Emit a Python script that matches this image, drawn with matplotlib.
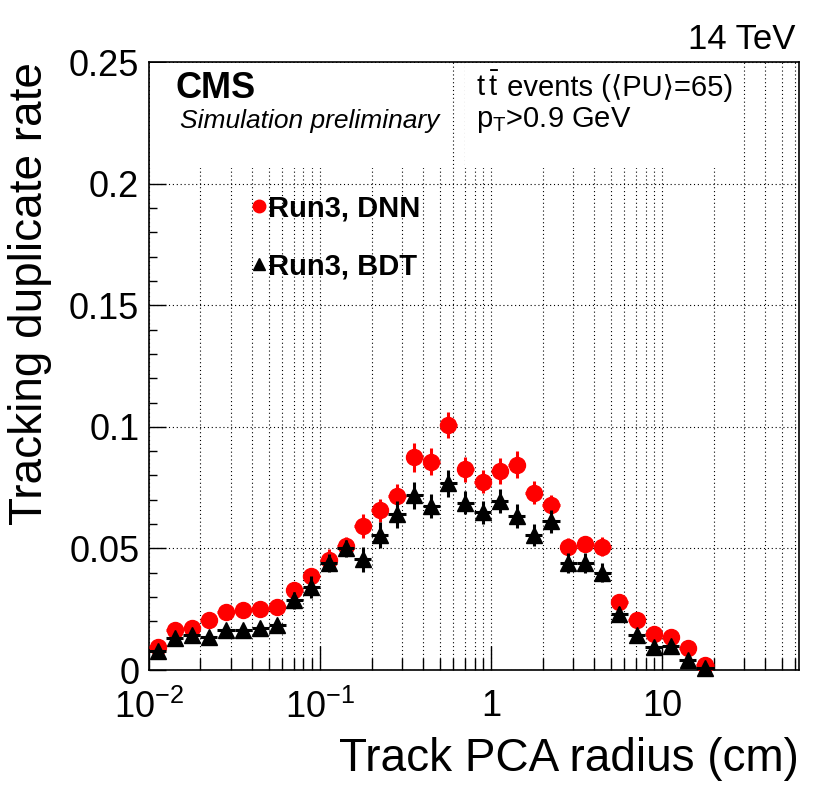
import numpy as np
import matplotlib
matplotlib.use("Agg")
import matplotlib.pyplot as plt
from matplotlib.ticker import FixedLocator, FuncFormatter, LogLocator, MultipleLocator
from matplotlib.lines import Line2D

plt.rcParams['font.family'] = ['Liberation Sans', 'DejaVu Sans']
plt.rcParams['mathtext.fontset'] = 'custom'
plt.rcParams['mathtext.rm'] = 'Liberation Sans'
plt.rcParams['mathtext.it'] = 'Liberation Sans:italic'
plt.rcParams['mathtext.bf'] = 'Liberation Sans:bold'

# log10 of bin centres, 10 bins per decade starting at 10^-2
log_centres = [-1.95, -1.85, -1.75, -1.65, -1.55, -1.45, -1.35, -1.25, -1.15, -1.05,
               -0.95, -0.85, -0.75, -0.65, -0.55, -0.45, -0.35, -0.25, -0.15, -0.05,
               0.05, 0.15, 0.25, 0.35, 0.45, 0.55, 0.65, 0.75, 0.85, 0.95,
               1.05, 1.15, 1.25]
half_width = 0.05

dnn_rate = [0.0095, 0.0164, 0.0171, 0.0205, 0.0239, 0.0246, 0.0253, 0.0260, 0.0329, 0.0387,
            0.0452, 0.0511, 0.0592, 0.0657, 0.0715, 0.0874, 0.0856, 0.1007, 0.0825, 0.0774,
            0.0818, 0.0845, 0.0729, 0.0678, 0.0504, 0.0518, 0.0507, 0.0280, 0.0205, 0.0150,
            0.0137, 0.0089, 0.0020]
dnn_err = [0.0015, 0.0015, 0.0015, 0.0017, 0.0018, 0.0018, 0.0018, 0.0020, 0.0027, 0.0030,
           0.0045, 0.0035, 0.0048, 0.0048, 0.0050, 0.0060, 0.0055, 0.0055, 0.0050, 0.0048,
           0.0055, 0.0055, 0.0048, 0.0040, 0.0037, 0.0030, 0.0040, 0.0027, 0.0020, 0.0015,
           0.0015, 0.0015, 0.0010]

bdt_rate = [0.0079, 0.0130, 0.0143, 0.0137, 0.0164, 0.0164, 0.0171, 0.0185, 0.0287, 0.0340,
            0.0442, 0.0500, 0.0455, 0.0555, 0.0640, 0.0719, 0.0674, 0.0767, 0.0688, 0.0648,
            0.0695, 0.0634, 0.0555, 0.0612, 0.0441, 0.0441, 0.0401, 0.0229, 0.0143, 0.0095,
            0.0098, 0.0041, 0.0007]
bdt_err = [0.0015, 0.0015, 0.0015, 0.0015, 0.0017, 0.0017, 0.0017, 0.0020, 0.0035, 0.0045,
           0.0037, 0.0035, 0.0050, 0.0055, 0.0055, 0.0055, 0.0050, 0.0055, 0.0048, 0.0048,
           0.0050, 0.0048, 0.0045, 0.0048, 0.0040, 0.0040, 0.0040, 0.0030, 0.0025, 0.0020,
           0.0020, 0.0015, 0.0010]

lc = np.array(log_centres)
x = 10**lc
xlo = x - 10**(lc - half_width)
xhi = 10**(lc + half_width) - x

fig = plt.figure(figsize=(8.3, 7.97), dpi=100)
ax = fig.add_axes([0.1795, 0.1593, 0.7832, 0.7629])

ax.set_xscale('log')
ax.set_xlim(0.01, 10**1.8)
ax.set_ylim(0, 0.25)

# grid: all x ticks, major y ticks
ax.xaxis.set_major_locator(FixedLocator([0.01, 0.1, 1, 10]))
ax.xaxis.set_minor_locator(LogLocator(base=10, subs=np.arange(2, 10)))
ax.yaxis.set_major_locator(MultipleLocator(0.05))
ax.yaxis.set_minor_locator(MultipleLocator(0.01))
ax.grid(True, which='both', axis='x', color='black', linestyle=(0, (1, 2.5)), linewidth=0.8)
ax.grid(True, which='major', axis='y', color='black', linestyle=(0, (1, 2.5)), linewidth=0.8)
ax.set_axisbelow(True)

def xfmt(v, pos):
    labels = {0.01: r'$10^{-2}$', 0.1: r'$10^{-1}$', 1: '1', 10: '10'}
    for k, s in labels.items():
        if abs(v - k) < 1e-9 * max(k, 1):
            return s
    return ''

def yfmt(v, pos):
    return ('%g' % round(v, 3))

ax.xaxis.set_major_formatter(FuncFormatter(xfmt))
ax.yaxis.set_major_formatter(FuncFormatter(yfmt))
ax.tick_params(axis='both', which='both', direction='in', top=False, right=False, labelsize=26)
ax.tick_params(axis='x', which='major', length=17, width=1, pad=14)
ax.tick_params(axis='x', which='minor', length=9, width=1)
ax.tick_params(axis='y', which='major', length=12, width=1, pad=7)
ax.tick_params(axis='y', which='minor', length=6, width=1)
for s in ax.spines.values():
    s.set_linewidth(1.2)

# white boxes over the grid behind the labels
ax.fill_between([0.0101, 0.53], 0.2064, 0.2496, color='white', zorder=1.5, linewidth=0)
ax.fill_between([0.7, 25], 0.2064, 0.2496, color='white', zorder=1.5, linewidth=0)

ax.errorbar(x, dnn_rate, yerr=dnn_err, xerr=[xlo, xhi], fmt='o', color='red',
            markersize=11.5, elinewidth=2.2, capsize=0, zorder=3, clip_on=False)
ax.errorbar(x, bdt_rate, yerr=bdt_err, xerr=[xlo, xhi], fmt='^', color='black',
            markersize=12, elinewidth=2.2, capsize=0, zorder=4, clip_on=False)

handles = [Line2D([], [], marker='o', color='red', linestyle='none', markersize=9),
           Line2D([], [], marker='^', color='black', linestyle='none', markersize=9)]
ax.legend(handles, ['Run3, DNN', 'Run3, BDT'], loc='upper left',
          bbox_to_anchor=(0.122, 0.826), frameon=False, handlelength=0.3,
          handletextpad=0.15, labelspacing=1.05,
          prop={'family': 'Liberation Sans', 'weight': 'bold', 'size': 21})

ax.text(0.041, 0.940, 'CMS', transform=ax.transAxes, fontsize=26, fontweight='bold',
        va='baseline', ha='left')
ax.text(0.047, 0.891, 'Simulation preliminary', transform=ax.transAxes, fontsize=19,
        style='italic', va='baseline', ha='left')
tt = ax.text(0.503, 0.944, r'$\mathrm{t}\,\bar{\mathrm{t}}$', transform=ax.transAxes,
             fontsize=21, va='baseline', ha='left')
ax.annotate(' events (\u27e8PU\u27e9=65)', xy=(1, 0), xycoords=tt, fontsize=21,
            va='bottom', ha='left', family=['Liberation Sans', 'DejaVu Sans'])
ax.text(0.503, 0.893, r'p$_\mathrm{T}$>0.9 GeV', transform=ax.transAxes, fontsize=21,
        va='baseline', ha='left')
fig.text(0.958, 0.938, '14 TeV', fontsize=25, ha='right', va='baseline')

ax.set_xlabel('Track PCA radius (cm)', fontsize=33, loc='right', labelpad=8)
ax.set_ylabel('Tracking duplicate rate', fontsize=33, loc='top', labelpad=12)

fig.savefig('out.png', dpi=100)
